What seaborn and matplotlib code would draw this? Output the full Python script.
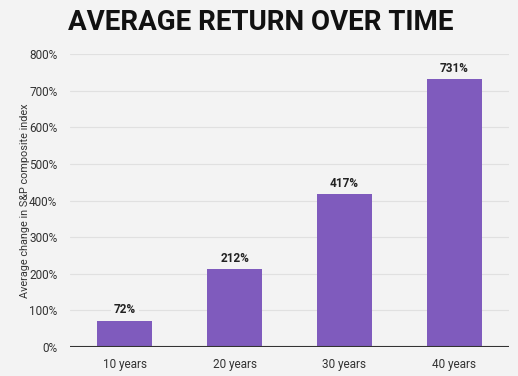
import matplotlib.pyplot as plt
import pandas as pd
import seaborn as sns

periods = ['10 years', '20 years', '30 years', '40 years']
returns = [72, 212, 417, 731]
yticks = [0, 100, 200, 300, 400, 500, 600, 700, 800]

df = pd.DataFrame({'Periodo': periods, 'Retorno': returns})

bg = '#f3f3f3'
sns.set_style('whitegrid')
plt.rcParams['font.family'] = ['Roboto', 'DejaVu Sans']

fig = plt.figure(figsize=(5.18, 3.76), dpi=100, facecolor=bg)
ax = fig.add_axes([0.135, 0.077, 0.848, 0.779], facecolor=bg)

sns.barplot(data=df, x='Periodo', y='Retorno', color='#7f5bbd', width=0.5,
            saturation=1, linewidth=0, ax=ax, zorder=2)

# rótulos em cima das barras
for i, v in enumerate(returns):
    ax.text(i, v + 12, f'{v}%', ha='center', va='bottom', fontsize=8.5,
            fontweight='bold', color='#222222', zorder=3,
            bbox=dict(boxstyle='square,pad=0.25', fc=bg, ec='none'))

ax.set_ylim(0, 800)
ax.set_xlim(-0.5, 3.5)
ax.set_yticks(yticks)
ax.set_yticklabels([f'{t}%' for t in yticks])
ax.grid(axis='y', color='#e0e0e0', linewidth=0.8, zorder=0)
ax.grid(axis='x', visible=False)
for s in ax.spines.values():
    s.set_visible(False)
ax.axhline(0, color='#333333', linewidth=1.5, zorder=4)
ax.tick_params(axis='both', length=0, labelsize=8.5, colors='#333333')
ax.tick_params(axis='y', pad=9)
ax.tick_params(axis='x', pad=8)
ax.set_xlabel('')
ax.set_ylabel('Average change in S&P composite index', fontsize=7.8, color='#333333')
ax.yaxis.set_label_coords(-0.09, 0.5)

fig.text(0.503, 0.94, 'AVERAGE RETURN OVER TIME', ha='center', va='center',
         fontsize=20, fontweight='bold', color='#111111')

fig.savefig('out.png', dpi=100, facecolor=bg)
